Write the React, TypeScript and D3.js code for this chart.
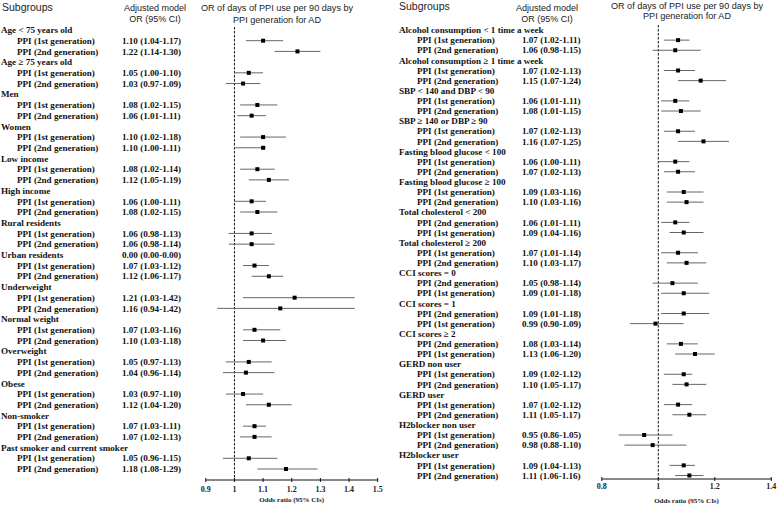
import React from "react";
import * as d3 from "d3";

// ---------- Left panel data ----------
const leftGroups = [
  "Age < 75 years old", "Age \u2265 75 years old", "Men", "Women", "Low income", "High income",
  "Rural residents", "Urban residents", "Underweight", "Normal weight", "Overweight", "Obese",
  "Non-smoker", "Past smoker and current smoker",
];
const leftGroupText = ["", "", "", "", "", "", "", "0.00 (0.00-0.00)", "", "", "", "", "", ""];
const leftGen = leftGroups.map(() => ["PPI (1st generation)", "PPI (2nd generation)"]);
const leftOR = [
  [1.10, 1.22], [1.05, 1.03], [1.08, 1.06], [1.10, 1.10], [1.08, 1.12], [1.06, 1.08], [1.06, 1.06],
  [1.07, 1.12], [1.21, 1.16], [1.07, 1.10], [1.05, 1.04], [1.03, 1.12], [1.07, 1.07], [1.05, 1.18],
];
const leftLo = [
  [1.04, 1.14], [1.00, 0.97], [1.02, 1.01], [1.02, 1.00], [1.02, 1.05], [1.00, 1.02], [0.98, 0.98],
  [1.03, 1.06], [1.03, 0.94], [1.03, 1.03], [0.97, 0.96], [0.97, 1.04], [1.03, 1.02], [0.96, 1.08],
];
const leftHi = [
  [1.17, 1.30], [1.10, 1.09], [1.15, 1.11], [1.18, 1.11], [1.14, 1.19], [1.11, 1.15], [1.13, 1.14],
  [1.12, 1.17], [1.42, 1.42], [1.16, 1.18], [1.13, 1.14], [1.10, 1.20], [1.11, 1.13], [1.15, 1.29],
];
const leftTicks = [0.9, 1.0, 1.1, 1.2, 1.3, 1.4, 1.5];

// ---------- Right panel data ----------
const rightGroups = [
  "Alcohol consumption < 1 time a week", "Alcohol consumption \u2265 1 time a week",
  "SBP < 140 and DBP < 90", "SBP \u2265 140 or DBP \u2265 90", "Fasting blood glucose < 100",
  "Fasting blood glucose \u2265 100", "Total cholesterol < 200", "Total cholesterol \u2265 200",
  "CCI scores = 0", "CCI scores = 1", "CCI scores \u2265 2", "GERD non user", "GERD user",
  "H2blocker non user", "H2blocker user",
];
const G1 = "PPI (1st generation)";
const G2 = "PPI (2nd generation)";
const rightGen = [
  [G1, G2], [G1, G2], [G1, G2], [G1, G2], [G1, G2], [G1, G2], [G2, G1], [G1, G2],
  [G2, G1], [G2, G1], [G2, G1], [G1, G2], [G1, G2], [G1, G2], [G1, G2],
];
const rightOR = [
  [1.07, 1.06], [1.07, 1.15], [1.06, 1.08], [1.07, 1.16], [1.06, 1.07], [1.09, 1.10], [1.06, 1.09],
  [1.07, 1.10], [1.05, 1.09], [1.09, 0.99], [1.08, 1.13], [1.09, 1.10], [1.07, 1.11], [0.95, 0.98],
  [1.09, 1.11],
];
const rightLo = [
  [1.02, 0.98], [1.02, 1.07], [1.01, 1.01], [1.02, 1.07], [1.00, 1.02], [1.03, 1.03], [1.01, 1.04],
  [1.01, 1.03], [0.98, 1.01], [1.01, 0.90], [1.03, 1.06], [1.02, 1.05], [1.02, 1.05], [0.86, 0.88],
  [1.04, 1.06],
];
const rightHi = [
  [1.11, 1.15], [1.13, 1.24], [1.11, 1.15], [1.13, 1.25], [1.11, 1.13], [1.16, 1.16], [1.11, 1.16],
  [1.14, 1.17], [1.14, 1.18], [1.18, 1.09], [1.14, 1.20], [1.12, 1.17], [1.12, 1.17], [1.05, 1.10],
  [1.13, 1.16],
];
const rightTicks = [0.8, 1.0, 1.2, 1.4];

const SERIF = "'Liberation Serif', 'Times New Roman', serif";
const SANS = "'Liberation Sans', Arial, sans-serif";

const fmt = (v: number) => v.toFixed(2);
const tickFmt = (v: number) => (v === 1 ? "1" : String(v));

type PanelProps = {
  groups: string[];
  groupText: string[];
  gen: string[][];
  or: number[][];
  lo: number[][];
  hi: number[][];
  ticks: number[];
  xDomain: [number, number];
  xRange: [number, number];
  yFirst: number;
  yLast: number;
  groupX: number;
  genX: number;
  orX: number;
  axisY: number;
  dashTop: number;
  tickLabelY: number;
  axisTitleY: number;
  head: {
    subX: number; subY: number; adjX: number; adjY1: number; adjY2: number;
    titleX: number; titleY1: number; titleY2: number;
  };
};

function Panel(p: PanelProps) {
  const nRows = p.groups.length * 3;
  const x = d3.scaleLinear().domain(p.xDomain).range(p.xRange);
  const y = d3.scaleLinear().domain([0, nRows - 1]).range([p.yFirst, p.yLast]);
  const rows: React.ReactNode[] = [];
  p.groups.forEach((g, gi) => {
    const r0 = gi * 3;
    rows.push(
      <text key={`g${gi}`} x={p.groupX} y={y(r0) + 3.2} fontFamily={SERIF} fontWeight="bold" fontSize={9.1} fill="#111">
        {g}
      </text>
    );
    if (p.groupText[gi]) {
      rows.push(
        <text key={`gt${gi}`} x={p.orX} y={y(r0) + 3.2} fontFamily={SERIF} fontWeight="bold" fontSize={9.1} fill="#111">
          {p.groupText[gi]}
        </text>
      );
    }
    for (let k = 0; k < 2; k++) {
      const yy = y(r0 + 1 + k);
      const o = p.or[gi][k], l = p.lo[gi][k], h = p.hi[gi][k];
      rows.push(
        <g key={`r${gi}-${k}`}>
          <text x={p.genX} y={yy + 3.2} fontFamily={SERIF} fontWeight="bold" fontSize={9.1} fill="#111">
            {p.gen[gi][k]}
          </text>
          <text x={p.orX} y={yy + 3.2} fontFamily={SERIF} fontWeight="bold" fontSize={9.1} fill="#111">
            {`${fmt(o)} (${fmt(l)}-${fmt(h)})`}
          </text>
          <line x1={x(l)} x2={x(h)} y1={yy} y2={yy} stroke="#666" strokeWidth={1} />
          <rect x={x(o) - 2} y={yy - 2} width={4} height={4} fill="#000" />
        </g>
      );
    }
  });
  const x0 = x(1);
  const h = p.head;
  return (
    <g>
      <text x={h.subX} y={h.subY} fontFamily={SANS} fontSize={10.5} fill="#222">Subgroups</text>
      <text x={h.adjX} y={h.adjY1} textAnchor="middle" fontFamily={SANS} fontSize={9} fill="#222">Adjusted model</text>
      <text x={h.adjX} y={h.adjY2} textAnchor="middle" fontFamily={SANS} fontSize={9} fill="#222">OR (95% CI)</text>
      <text x={h.titleX} y={h.titleY1} textAnchor="middle" fontFamily={SANS} fontSize={9.1} fill="#222">
        OR of days of PPI use per 90 days by
      </text>
      <text x={h.titleX} y={h.titleY2} textAnchor="middle" fontFamily={SANS} fontSize={9.1} fill="#222">
        PPI generation for AD
      </text>
      <line x1={x0} x2={x0} y1={p.dashTop} y2={p.axisY} stroke="#111" strokeWidth={1} strokeDasharray="2.5,1.5" />
      {rows}
      <line x1={p.xRange[0]} x2={p.xRange[1]} y1={p.axisY} y2={p.axisY} stroke="#111" strokeWidth={1} />
      {p.ticks.map((t) => (
        <g key={`t${t}`}>
          <line x1={x(t)} x2={x(t)} y1={p.axisY - 2} y2={p.axisY + 2} stroke="#111" strokeWidth={1} />
          <text x={x(t)} y={p.tickLabelY} textAnchor="middle" fontFamily={SERIF} fontWeight="bold" fontSize={8} fill="#222">
            {tickFmt(t)}
          </text>
        </g>
      ))}
      <text x={(p.xRange[0] + p.xRange[1]) / 2} y={p.axisTitleY} textAnchor="middle" fontFamily={SERIF} fontWeight="bold" fontSize={7} fill="#222">
        Odds ratio (95% CIs)
      </text>
    </g>
  );
}

export default function App() {
  return (
    <svg
      width={780}
      height={505}
      viewBox="0 0 780 505"
      style={{ position: "absolute", left: 0, top: 0, background: "#fff" }}
    >
      <rect x={0} y={0} width={780} height={505} fill="#fff" />
      <Panel
        groups={leftGroups}
        groupText={leftGroupText}
        gen={leftGen}
        or={leftOR}
        lo={leftLo}
        hi={leftHi}
        ticks={leftTicks}
        xDomain={[0.9, 1.5]}
        xRange={[205.8, 377.7]}
        yFirst={30}
        yLast={469}
        groupX={1}
        genX={17}
        orX={122}
        axisY={480}
        dashTop={27}
        tickLabelY={492}
        axisTitleY={501.5}
        head={{ subX: 2, subY: 11, adjX: 155, adjY1: 10.5, adjY2: 21.8, titleX: 277, titleY1: 10.8, titleY2: 22.5 }}
      />
      <Panel
        groups={rightGroups}
        groupText={rightGroups.map(() => "")}
        gen={rightGen}
        or={rightOR}
        lo={rightLo}
        hi={rightHi}
        ticks={rightTicks}
        xDomain={[0.8, 1.4]}
        xRange={[601.8, 771.3]}
        yFirst={30}
        yLast={475.5}
        groupX={399}
        genX={417}
        orX={522}
        axisY={479}
        dashTop={25}
        tickLabelY={489}
        axisTitleY={502.5}
        head={{ subX: 399, subY: 10, adjX: 547, adjY1: 10.5, adjY2: 21.8, titleX: 687, titleY1: 8.5, titleY2: 18.5 }}
      />
    </svg>
  );
}
